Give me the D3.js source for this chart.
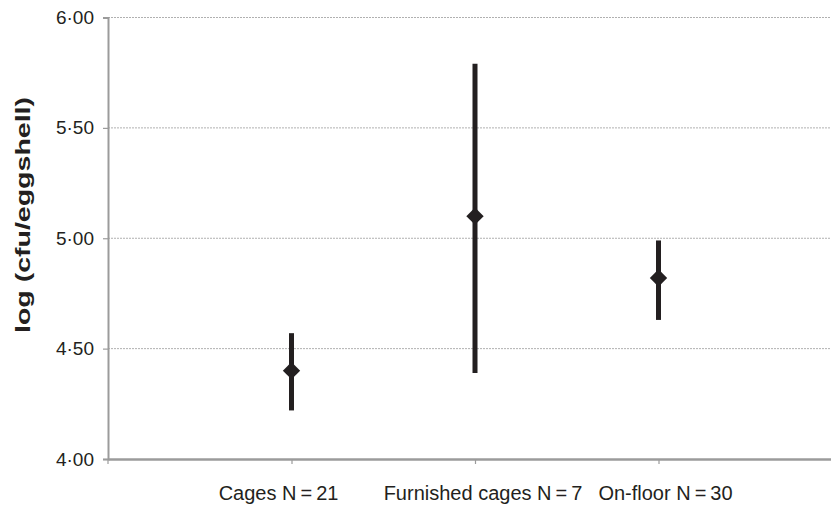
<!DOCTYPE html>
<html>
<head>
<meta charset="utf-8">
<script src="https://cdn.jsdelivr.net/npm/d3@7"></script>
<style>
  body { margin: 0; background: #fff; }
  text { font-family: "Liberation Sans", Arial, sans-serif; fill: #231f20; }
</style>
</head>
<body>
<script>
// data
var categories = ["Cages N\u2009=\u200921", "Furnished cages N\u2009=\u20097", "On-floor N\u2009=\u200930"];
var means = [4.40, 5.10, 4.82];
var lower = [4.22, 4.39, 4.63];
var upper = [4.57, 5.79, 4.99];
var yTicks = [4.0, 4.5, 5.0, 5.5, 6.0];

var width = 831, height = 506;
var plotLeft = 108, plotTop = 17.5, plotBottom = 459, plotRight = 842;
var ink = "#231f20", axisGrey = "#9b9b9b";

// labels in the source sit a little off their ticks
var labelShift = [-13, 8, 7];

var svg = d3.select("body").append("svg")
    .attr("width", width).attr("height", height);

var x = d3.scalePoint().domain(categories).range([plotLeft, plotRight]).padding(1);
var y = d3.scaleLinear().domain([4, 6]).range([plotBottom, plotTop]);

// gridlines
svg.append("g").selectAll("line")
    .data(yTicks.filter(function (d) { return d > 4; }))
    .enter().append("line")
    .attr("x1", plotLeft).attr("x2", width)
    .attr("y1", function (d) { return y(d); })
    .attr("y2", function (d) { return y(d); })
    .attr("stroke", "#b0b0b0")
    .attr("stroke-width", 1)
    .attr("stroke-dasharray", "2,1");

// y axis
var yAxis = svg.append("g")
    .attr("transform", "translate(" + plotLeft + ",0)")
    .call(d3.axisLeft(y).tickValues(yTicks).tickSize(5).tickPadding(9)
        .tickFormat(function (d) { return d3.format(".2f")(d).replace(".", "\u00b7"); }));
yAxis.select(".domain").attr("stroke", axisGrey).attr("stroke-width", 2);
yAxis.selectAll(".tick line").attr("stroke", axisGrey).attr("stroke-width", 1.2);
yAxis.selectAll(".tick text").attr("font-size", 19).attr("fill", ink)
    .attr("font-family", "Liberation Sans, Arial, sans-serif");

// x axis
var xAxis = svg.append("g")
    .attr("transform", "translate(0," + plotBottom + ")")
    .call(d3.axisBottom(x).tickSize(5).tickSizeOuter(0).tickFormat(""));
xAxis.select(".domain").attr("stroke", axisGrey).attr("stroke-width", 2.5);
xAxis.selectAll(".tick line").attr("stroke", axisGrey).attr("stroke-width", 1.2);
xAxis.append("line")
    .attr("x1", plotLeft).attr("x2", plotLeft).attr("y1", 0).attr("y2", 5)
    .attr("stroke", axisGrey).attr("stroke-width", 1.2);

svg.append("g").selectAll("text")
    .data(categories)
    .enter().append("text")
    .attr("x", function (d, i) { return x(d) + labelShift[i]; })
    .attr("y", 500)
    .attr("text-anchor", "middle")
    .attr("font-size", 20)
    .text(function (d) { return d; });

// error bars
svg.append("g").selectAll("line")
    .data(categories)
    .enter().append("line")
    .attr("x1", function (d) { return x(d); })
    .attr("x2", function (d) { return x(d); })
    .attr("y1", function (d, i) { return y(upper[i]); })
    .attr("y2", function (d, i) { return y(lower[i]); })
    .attr("stroke", ink)
    .attr("stroke-width", 5);

// mean markers
svg.append("g").selectAll("path")
    .data(categories)
    .enter().append("path")
    .attr("d", d3.symbol().type(d3.symbolSquare).size(150))
    .attr("transform", function (d, i) {
        return "translate(" + x(d) + "," + y(means[i]) + ") rotate(45)";
    })
    .attr("fill", ink);

// y title
svg.append("text")
    .attr("transform", "translate(30,215) rotate(-90)")
    .attr("text-anchor", "middle")
    .attr("font-size", 20)
    .attr("font-weight", "bold")
    .attr("textLength", 236)
    .attr("lengthAdjust", "spacingAndGlyphs")
    .text("log (cfu/eggshell)");
</script>
</body>
</html>
